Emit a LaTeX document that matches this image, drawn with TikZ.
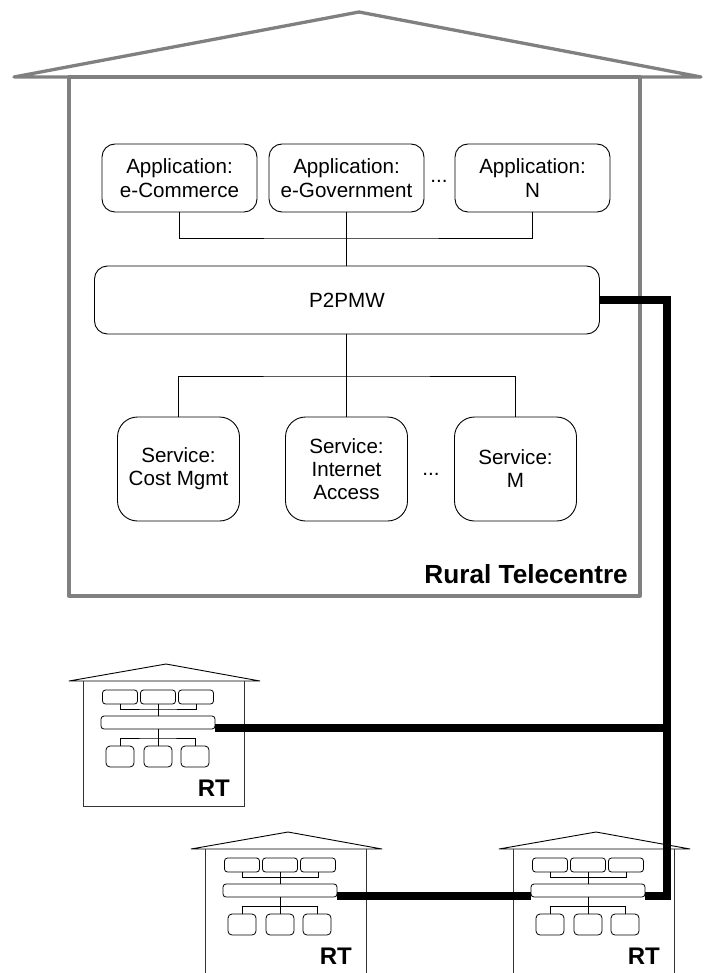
\documentclass[tikz,border=0pt]{standalone}
\usepackage{fontspec}
\setmainfont{Liberation Sans}
\usetikzlibrary{calc}
\tikzset{
  bigline/.style={draw=black!50, line width=3.3pt, line join=round},
  app/.style={draw, line width=0.9pt, rounded corners=13pt, minimum width=155pt, minimum height=68pt, inner sep=0pt, align=center, font=\fontsize{20.6}{23.5}\selectfont},
  mw/.style={draw, line width=0.9pt, rounded corners=13pt, minimum width=505pt, minimum height=68pt, inner sep=0pt, font=\fontsize{20.6}{23.5}\selectfont},
  svc/.style={draw, line width=0.9pt, rounded corners=20pt, minimum width=122pt, minimum height=104pt, inner sep=0pt, align=center, font=\fontsize{20.6}{23}\selectfont},
  dotstxt/.style={inner sep=0pt, anchor=base, font=\fontsize{20.6}{23.5}\selectfont},
  wire/.style={draw, line width=0.8pt},
  bus/.style={draw, line width=7.5pt, line join=miter},
  bigtitle/.style={inner sep=0pt, anchor=base east, font=\fontsize{26.2}{30}\selectfont\bfseries},
  sroof/.style={draw, line width=0.9pt, line join=round},
  swall/.style={draw, line width=0.9pt, black!80},
  sapp/.style={draw, line width=0.8pt, rounded corners=3pt, minimum width=35pt, minimum height=14pt, inner sep=0pt},
  sbar/.style={draw, line width=0.8pt, rounded corners=3pt, minimum width=114pt, minimum height=13pt, inner sep=0pt},
  ssvc/.style={draw, line width=0.8pt, rounded corners=4pt, minimum width=28pt, minimum height=21pt, inner sep=0pt},
  swire/.style={draw, line width=0.7pt},
  rtlabel/.style={inner sep=0pt, anchor=base east, font=\fontsize{24}{28}\selectfont\bfseries},
}
\newcommand\rthouse[4]{%
  \begin{scope}[shift={(#2,#3)}]
    \draw[sroof] (69,681) -- (166,664) -- (260,681) -- cycle;
    \draw[swall] (83,681) -- (83,#4) -- (244,#4) -- (244,681);
    \node[sapp] (#1a1) at (120,697) {};
    \node[sapp] (#1a2) at (158,697) {};
    \node[sapp] (#1a3) at (196,697) {};
    \node[sbar] (#1bar) at (158,722.5) {};
    \node[ssvc] (#1s1) at (120,756.5) {};
    \node[ssvc] (#1s2) at (158,756.5) {};
    \node[ssvc] (#1s3) at (195,756.5) {};
    \coordinate (#1up) at (158,709);
    \coordinate (#1dn) at (158,738);
    \node[rtlabel] (#1lab) at (230,796) {RT};
  \end{scope}
  \draw[swire] (#1a1.south) |- (#1up) -| (#1a3.south);
  \draw[swire] (#1a2.south) -- (#1bar.north);
  \draw[swire] (#1s1.north) |- (#1dn) -| (#1s3.north);
  \draw[swire] (#1bar.south) -- (#1s2.north);
  \coordinate (#1right) at ([yshift=1.5pt]#1bar.south east);
  \coordinate (#1left) at ([yshift=1.5pt]#1bar.south west);
}
\begin{document}
\begin{tikzpicture}[x=1pt,y=-1pt]
  \useasboundingbox (0,0) rectangle (708,973);
  \fill[white] (0,0) rectangle (708,973);
  \clip (0,0) rectangle (708,973);

  % big house
  \draw[bigline] (14,77) -- (359,12) -- (701,77) -- cycle;
  \draw[bigline] (69,77) rectangle (640,596);

  \node[app] (a1) at (179.5,178) {Application:\\e-Commerce};
  \node[app] (a2) at (346.5,178) {Application:\\e-Government};
  \node[app] (a3) at (532.5,178) {Application:\\N};
  \node[dotstxt] (adots) at (439,183) {...};
  \node[mw] (p2p) at (347,300) {P2PMW};
  \node[svc] (s1) at (178.5,469) {Service:\\Cost Mgmt};
  \node[svc] (s2) at (346.5,469) {Service:\\Internet\\Access};
  \node[svc] (s3) at (515.5,469) {Service:\\M};
  \node[dotstxt] (sdots) at (431,475) {...};
  \node[bigtitle] (title) at (628,583) {Rural Telecentre};

  \coordinate (aup) at (346.5,238);
  \coordinate (sdn) at (346.5,376);
  \draw[wire] (a1.south) |- (aup) -| (a3.south);
  \draw[wire] (a2.south) -- (p2p.north -| a2.south);
  \draw[wire] (s1.north) |- (sdn) -| (s3.north);
  \draw[wire] (p2p.south -| s2.north) -- (s2.north);

  % small houses
  \rthouse{ra}{0}{0}{806}
  \rthouse{rb}{122}{168}{830}
  \rthouse{rc}{430}{168}{830}

  % backbone
  \coordinate (jx) at (667,0);
  \draw[bus] (p2p.east) -- (p2p.east -| jx) |- (rcright);
  \draw[bus] (raright) -- (raright -| jx);
  \draw[bus] (rbright) -- (rcleft);
\end{tikzpicture}
\end{document}
